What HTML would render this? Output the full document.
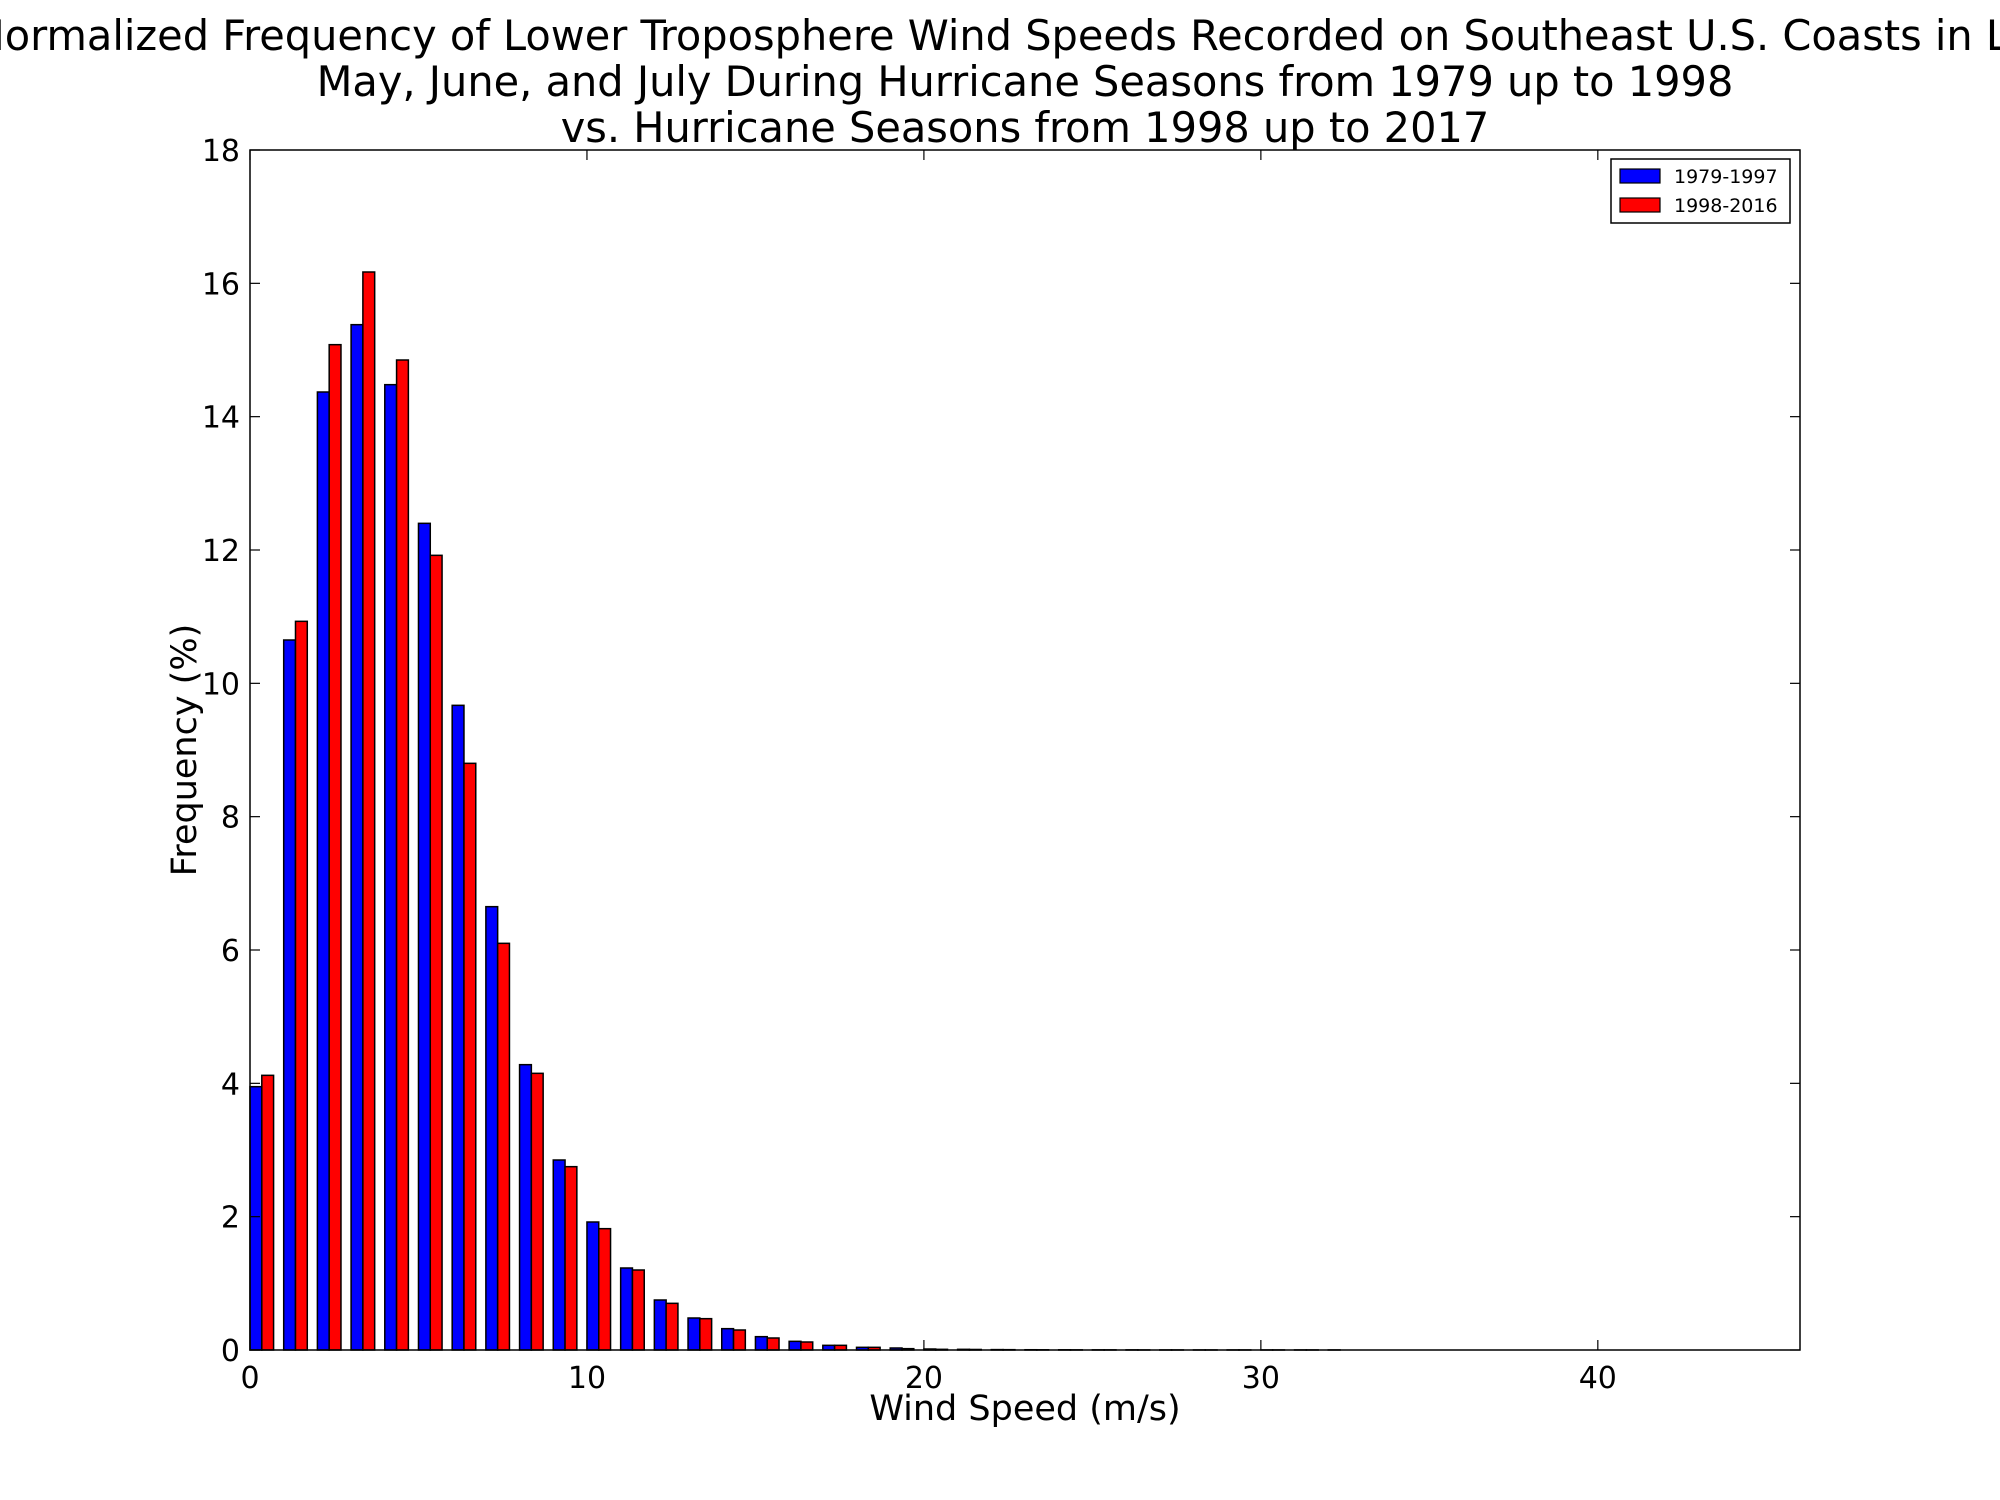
<!DOCTYPE html>
<html><head><meta charset="utf-8"><style>
html,body{margin:0;padding:0;background:#fff;width:2000px;height:1500px;overflow:hidden}
svg text{font-family:"DejaVu Sans","Liberation Sans",sans-serif;fill:#000}
</style></head><body>
<svg id="chart" width="2000" height="1500" xmlns="http://www.w3.org/2000/svg">
<g>
<text x="1025" y="50" font-size="41.5" text-anchor="middle">Normalized Frequency of Lower Troposphere Wind Speeds Recorded on Southeast U.S. Coasts in Late</text>
<text x="1025" y="96" font-size="41.5" text-anchor="middle">May, June, and July During Hurricane Seasons from 1979 up to 1998</text>
<text x="1025" y="142" font-size="41.5" text-anchor="middle">vs. Hurricane Seasons from 1998 up to 2017</text>
</g>
<g id="bars"></g>
<rect x="250" y="150" width="1550" height="1200" fill="none" stroke="#000" stroke-width="1.5"/>
<g id="ticks"></g>
<text x="1025" y="1420" font-size="35" text-anchor="middle">Wind Speed (m/s)</text>
<text x="0" y="0" font-size="35" text-anchor="middle" transform="translate(196,750) rotate(-90)">Frequency (%)</text>
<g>
<rect x="1611" y="159" width="179" height="64" fill="#fff" stroke="#000" stroke-width="1.5"/>
<rect x="1620" y="169" width="40" height="14" fill="#0000ff" stroke="#000" stroke-width="1.2"/>
<text x="1674" y="183" font-size="19">1979-1997</text>
<rect x="1620" y="198" width="40" height="14" fill="#ff0000" stroke="#000" stroke-width="1.2"/>
<text x="1674" y="212" font-size="19">1998-2016</text>
</g>
</svg>
<script>
const bins = [0,1,2,3,4,5,6,7,8,9,10,11,12,13,14,15,16,17,18,19,20,21,22,23,24,25,26,27,28,29,30,31,32,33,34,35,36,37,38,39,40,41,42,43,44,45];
const series1979 = [3.95,10.65,14.37,15.38,14.48,12.4,9.67,6.65,4.28,2.85,1.92,1.23,0.75,0.48,0.32,0.2,0.13,0.07,0.04,0.03,0.015,0.01,0.006,0.004,0.003,0.002,0.002,0.001,0.001,0.001,0.001,0.001,0.001,0,0,0,0,0,0,0,0,0,0,0,0,0];
const series1998 = [4.12,10.93,15.08,16.17,14.85,11.92,8.8,6.1,4.15,2.75,1.82,1.2,0.7,0.47,0.3,0.18,0.12,0.07,0.04,0.02,0.01,0.008,0.005,0.003,0.002,0.002,0.001,0.001,0.001,0.001,0.001,0.001,0,0,0,0,0,0,0,0,0,0,0,0,0,0];
const xTicks = [0,10,20,30,40];
const yTicks = [0,2,4,6,8,10,12,14,16,18];
const X0=250,X1=1800,Y0=1350,Y1=150,XMAX=46,YMAX=18,BW=0.35;
const sx=v=>X0+(v/XMAX)*(X1-X0);
const sy=v=>Y0-(v/YMAX)*(Y0-Y1);
const NS='http://www.w3.org/2000/svg';
const bars=document.getElementById('bars');
function bar(x,v,color,name){
  const r=document.createElementNS(NS,'rect');
  r.setAttribute('x',sx(x));r.setAttribute('y',sy(v));
  r.setAttribute('width',sx(x+BW)-sx(x));r.setAttribute('height',Math.max(0,Y0-sy(v)));
  r.setAttribute('fill',color);r.setAttribute('stroke','#000');r.setAttribute('stroke-width','1.5');
  
  
  bars.appendChild(r);
}
bins.forEach((b,i)=>{
  bar(b,series1979[i],'#0000ff','bar-1979-1997-'+b);
  bar(b+BW,series1998[i],'#ff0000','bar-1998-2016-'+b);
});
const tg=document.getElementById('ticks');
function line(x1,y1,x2,y2){const l=document.createElementNS(NS,'line');l.setAttribute('x1',x1);l.setAttribute('y1',y1);l.setAttribute('x2',x2);l.setAttribute('y2',y2);l.setAttribute('stroke','#000');l.setAttribute('stroke-width','1.2');tg.appendChild(l);}
function txt(x,y,s,anchor){const t=document.createElementNS(NS,'text');t.setAttribute('x',x);t.setAttribute('y',y);t.setAttribute('font-size','30');t.setAttribute('text-anchor',anchor);t.textContent=s;


tg.appendChild(t);}
xTicks.forEach(v=>{const x=sx(v);line(x,Y0,x,Y0-10);line(x,Y1,x,Y1+10);txt(x,Y0+38,String(v),'middle');});
yTicks.forEach(v=>{const y=sy(v);line(X0,y,X0+10,y);line(X1,y,X1-10,y);txt(X0-10,y+11,String(v),'end');});
</script>
</body></html>
